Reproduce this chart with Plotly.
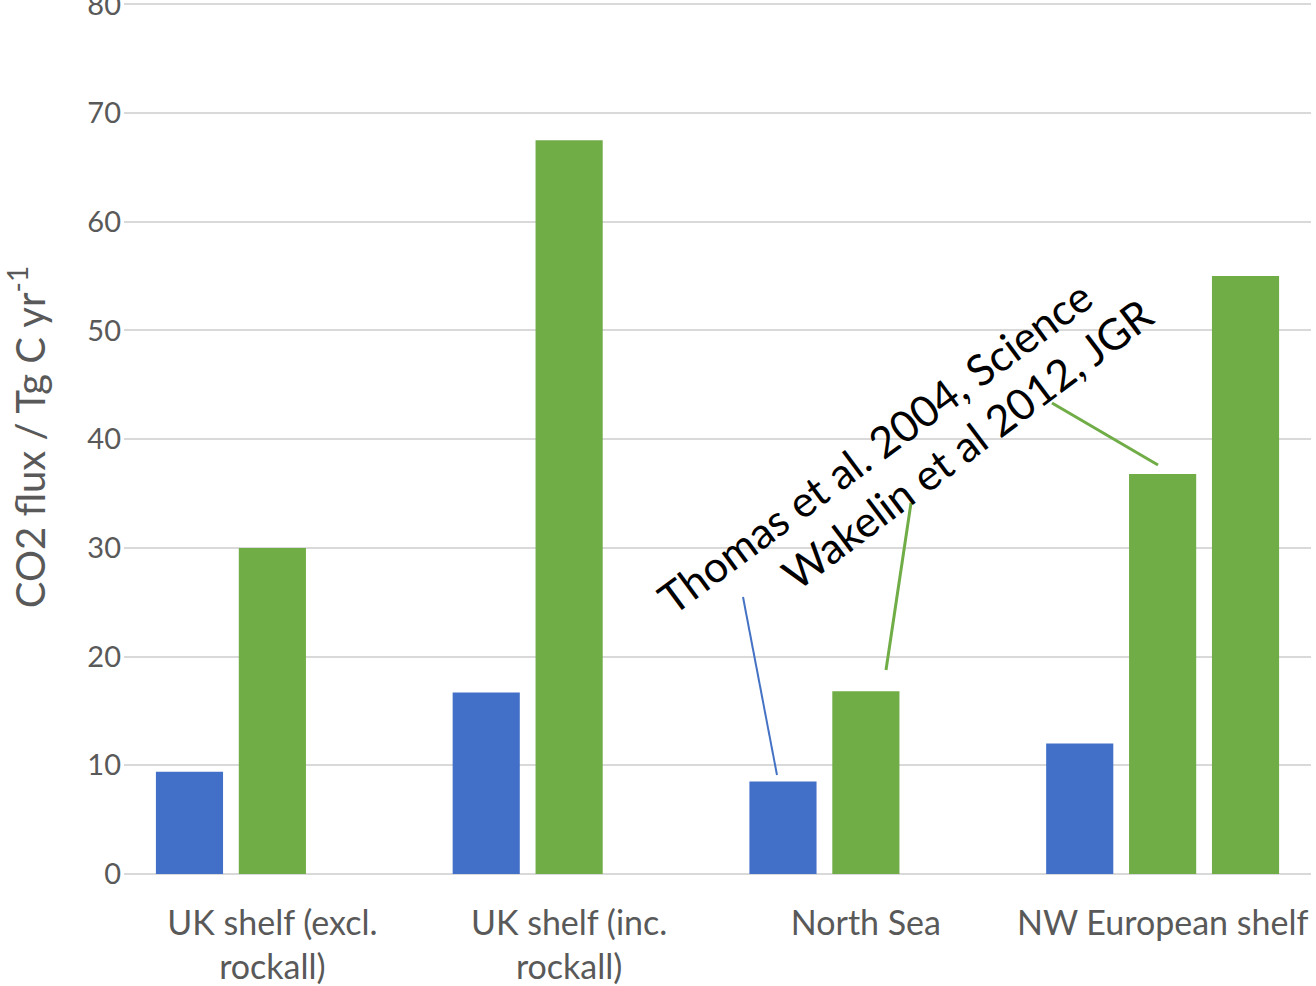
import plotly.graph_objects as go

categories = ["UK shelf (excl.<br>rockall)", "UK shelf (inc.<br>rockall)", "North Sea", "NW European shelf"]
thomas_2004 = [9.4, 16.7, 8.5, 12.0]
wakelin_2012 = [30.0, 67.5, 16.8, 36.8]
wakelin_2012_b = [None, None, None, 55.0]

blue = "#4472C4"
green = "#70AD47"
font = "Lato"

fig = go.Figure()
fig.add_trace(go.Bar(x=categories, y=thomas_2004, marker=dict(color="#4270C8", line=dict(width=0)), name="Thomas"))
fig.add_trace(go.Bar(x=categories, y=wakelin_2012, marker=dict(color=green, line=dict(width=0)), name="Wakelin"))
fig.add_trace(go.Bar(x=categories, y=wakelin_2012_b, marker=dict(color=green, line=dict(width=0)), name="Wakelin b"))

L, R, T, B = 124, 5, 0, 112
W, H = 1316, 986
pw = W - L - R

def px(xp):
    return (xp - L) / pw

fig.update_layout(
    width=W, height=H,
    margin=dict(l=L, r=R, t=T, b=B),
    plot_bgcolor="white", paper_bgcolor="white",
    barmode="group", bargap=0.162, bargroupgap=0.19,
    showlegend=False,
    font=dict(family=font, color="#595959"),
    xaxis=dict(showgrid=False, tickfont=dict(size=34, color="#595959"), ticks="",
               showline=False, ticklabelstandoff=26, automargin=False),
    yaxis=dict(range=[0, 80.4], tickvals=[0, 10, 20, 30, 40, 50, 60, 70, 80],
               showgrid=True, gridcolor="#d9d9d9", gridwidth=1.5,
               zeroline=True, zerolinecolor="#d9d9d9", zerolinewidth=1.5,
               tickfont=dict(size=29, color="#595959"), ticks="", ticklabelstandoff=2,
               ticklabeloverflow="allow", automargin=False,
               title=dict(text="CO2 flux / Tg C yr<sup>-1</sup>", font=dict(size=40, color="#595959"), standoff=32)),
)

fig.add_annotation(text="Thomas et al. 2004, Science", xref="paper", yref="y",
                   x=px(875), y=39.3, showarrow=False, textangle=-36.5,
                   xanchor="center", yanchor="middle",
                   font=dict(family=font, size=43, color="black"))
fig.add_annotation(text="Wakelin et al 2012, JGR", xref="paper", yref="y",
                   x=px(967), y=39.6, showarrow=False, textangle=-37,
                   xanchor="center", yanchor="middle",
                   font=dict(family=font, size=43, color="black"))

def ly(p):
    return (874 - p) / 10.87

lines = [
    ((777, 775), (743, 597), blue, 2),
    ((886, 670), (911, 503), green, 3),
    ((1158, 465), (1052, 403), green, 3),
]
for (x0, y0), (x1, y1), c, w in lines:
    fig.add_shape(type="line", xref="paper", yref="y", x0=px(x0), y0=ly(y0), x1=px(x1), y1=ly(y1),
                  line=dict(color=c, width=w))

fig.write_html("out.html")
